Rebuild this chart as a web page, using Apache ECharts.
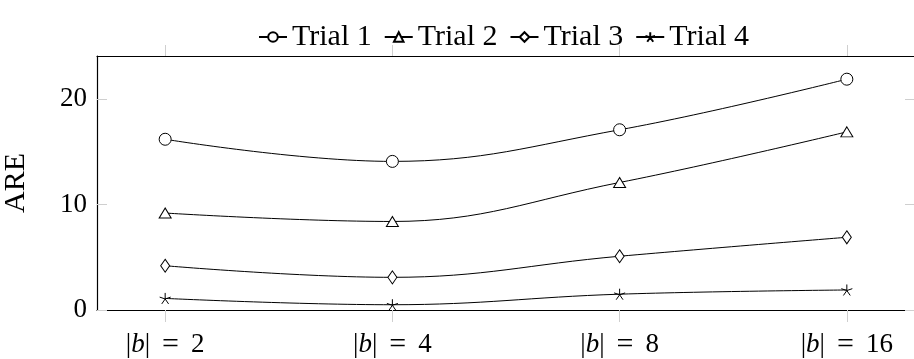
<!DOCTYPE html>
<html>
<head>
<meta charset="utf-8">
<script src="https://cdn.jsdelivr.net/npm/echarts@6/dist/echarts.min.js"></script>
<style>html,body{margin:0;padding:0;background:#fff}#c{width:914px;height:359px}</style>
</head>
<body>
<div id="c"></div>
<script>
const categories = ['2', '4', '8', '16'];
const seriesNames = ['Trial 1', 'Trial 2', 'Trial 3', 'Trial 4'];
const trial1 = [16.2, 14.1, 17.1, 21.9];
const trial2 = [9.2, 8.4, 12.1, 16.9];
const trial3 = [4.2, 3.1, 5.1, 6.9];
const trial4 = [1.1, 0.5, 1.5, 1.9];
const yTicks = [0, 10, 20];

const FONT = 'Liberation Serif';
const circlePath = 'path://M10,0A10,10,0,1,1,-10,0A10,10,0,1,1,10,0Z';
const triPath = 'path://M0,-10L10,7L-10,7Z';
const diamondPath = 'path://M0,-10L7,0L0,10L-7,0Z';
const starPath = 'path://M0,-10L0,0M9.5,-3.1L0,0M5.9,8.1L0,0M-5.9,8.1L0,0M-9.5,-3.1L0,0';
const symbols = [circlePath, triPath, diamondPath, starPath];
const sizes = [12, [12, 10], [9, 13], 11];
const values = [trial1, trial2, trial3, trial4];
const xIdx = categories.map((c, i) => i);

const chart = echarts.init(document.getElementById('c'), null, {renderer: 'canvas'});
const series = values.map((vals, s) => ({
  name: seriesNames[s],
  type: 'line',
  smooth: 0.4,
  data: vals.map((v, i) => [xIdx[i], v]),
  symbol: symbols[s],
  symbolSize: sizes[s],
  showAllSymbol: true,
  lineStyle: {color: '#000', width: 1},
  itemStyle: {color: '#fff', borderColor: '#000', borderWidth: 1},
  emphasis: {disabled: true},
  z: 3
}));

const tickGray = {color: '#cfcfcf', width: 1};

chart.setOption({
  animation: false,
  backgroundColor: '#fff',
  grid: {left: 97, right: -1, top: 56, bottom: 49, containLabel: false, outerBoundsMode: 'none'},
  legend: {
    top: 17,
    left: 253,
    itemWidth: 28,
    itemHeight: 12,
    itemGap: 12,
    textStyle: {fontFamily: FONT, fontSize: 30, color: '#000'},
    data: seriesNames
  },
  xAxis: [{
    type: 'value',
    min: -0.3,
    max: 3.3,
    position: 'bottom',
    axisLine: {show: true, onZero: false, lineStyle: {color: '#000', width: 1.2}},
    axisTick: {show: true, inside: false, length: 12, customValues: xIdx, lineStyle: tickGray},
    axisLabel: {
      customValues: xIdx,
      margin: 20,
      formatter: v => '{n||}{b|b}{n||}{eq|=}{n|' + categories[Math.round(v)] + '}',
      rich: {
        n: {fontFamily: FONT, fontSize: 27, color: '#000'},
        b: {fontFamily: FONT, fontSize: 27, fontStyle: 'italic', color: '#000'},
        eq: {fontFamily: FONT, fontSize: 30, color: '#000', padding: [0, 12, 0, 12]}
      }
    },
    splitLine: {show: false}
  }, {
    type: 'value',
    min: -0.3,
    max: 3.3,
    position: 'top',
    axisLine: {show: true, onZero: false, lineStyle: {color: '#000', width: 1.2}},
    axisTick: {show: true, inside: false, length: 11, customValues: xIdx, lineStyle: tickGray},
    axisLabel: {show: false},
    splitLine: {show: false}
  }],
  yAxis: [{
    type: 'value',
    min: 0,
    max: 24.1,
    name: 'ARE',
    nameLocation: 'middle',
    nameGap: 66,
    nameRotate: 90,
    nameMoveOverlap: false,
    nameTextStyle: {fontFamily: FONT, fontSize: 30, color: '#000'},
    axisLine: {show: true, onZero: false, lineStyle: {color: '#000', width: 1.2}},
    axisTick: {show: true, inside: true, length: 10, customValues: yTicks, lineStyle: tickGray},
    axisLabel: {customValues: yTicks, margin: 10, fontFamily: FONT, fontSize: 27, color: '#000'},
    splitLine: {show: false}
  }, {
    type: 'value',
    min: 0,
    max: 24.1,
    position: 'right',
    axisLine: {show: false, onZero: false},
    axisTick: {show: true, inside: true, length: 10, customValues: yTicks, lineStyle: tickGray},
    axisLabel: {show: false},
    splitLine: {show: false}
  }],
  series: series
});
</script>
</body>
</html>
